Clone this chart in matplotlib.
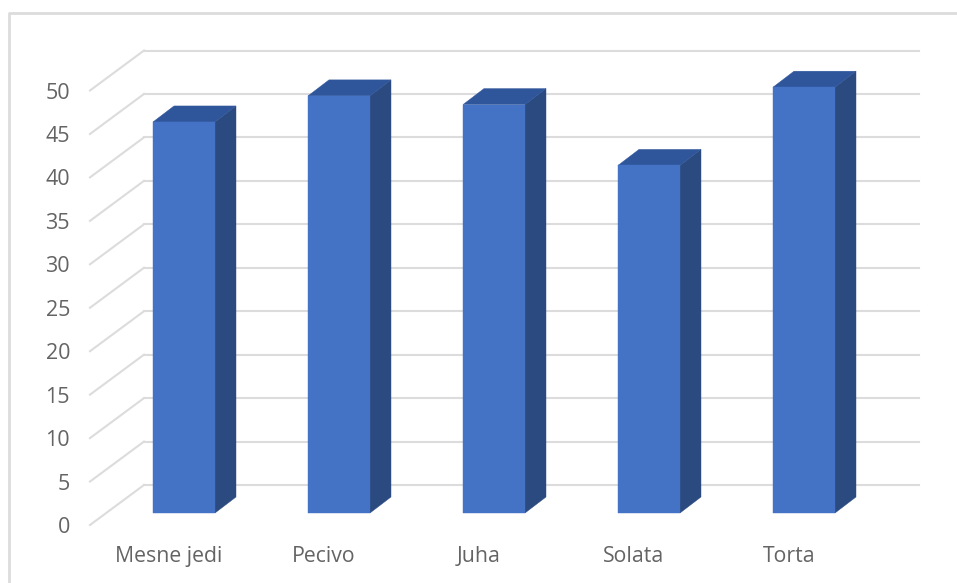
import matplotlib
matplotlib.use("Agg")
import matplotlib.pyplot as plt
from matplotlib.patches import Polygon

categories = ["Mesne jedi", "Pecivo", "Juha", "Solata", "Torta"]
values = [45, 48, 47, 40, 49]
y_ticks = [0, 5, 10, 15, 20, 25, 30, 35, 40, 45, 50]

plt.rcParams['font.family'] = ['Open Sans', 'DejaVu Sans']
W, H = 957, 583
fig = plt.figure(figsize=(W / 100, H / 100), dpi=100, facecolor='white')
ax = fig.add_axes([0, 0, 1, 1])
ax.axis('off')

# one category = 155 px, one value unit = 8.69 px; category 0 sits at x=184, value 0 at y=513
PX, PY = 155.0, 8.69
ax.set_xlim(-184 / PX, (W - 184) / PX)
ax.set_ylim(-(H - 513) / PY, 513 / PY)

def px_x(p): return (p - 184) / PX
def px_y(p): return (513 - p) / PY

half = 31 / PX
dx, dy = 21 / PX, 16 / PY            # bar depth
wall_dx, wall_dy = 37 / PX, 28 / PY  # bar plane -> back wall
floor_dx, floor_dy = 17 / PX, 12 / PY  # bar plane -> front of floor
left, right = px_x(107), px_x(882)
grid = '#dcdcdc'

for v in y_ticks:
    ax.plot([left + wall_dx, right + wall_dx], [v + wall_dy] * 2, color=grid, lw=1.5, zorder=1)
    ax.plot([left - floor_dx, left + wall_dx], [v - floor_dy, v + wall_dy], color=grid, lw=1.5, zorder=1)
    ax.text(px_x(70), v - floor_dy, str(v), ha='right', va='center_baseline', fontsize=15.5, color='#646464')

for i, (c, v) in enumerate(zip(categories, values)):
    ax.add_patch(Polygon([(i + half, 0), (i + half + dx, dy), (i + half + dx, v + dy), (i + half, v)],
                         facecolor='#2a4a80', edgecolor='#2a4a80', lw=0.3, zorder=3))
    ax.add_patch(Polygon([(i - half, v), (i + half, v), (i + half + dx, v + dy), (i - half + dx, v + dy)],
                         facecolor='#2f559b', edgecolor='#2f559b', lw=0.3, zorder=3))
    ax.add_patch(Polygon([(i - half, 0), (i + half, 0), (i + half, v), (i - half, v)],
                         facecolor='#4472c4', edgecolor='#4472c4', lw=0.3, zorder=4))
    ax.text(i - 15 / PX, px_y(556.5), c, ha='center', va='center', fontsize=15.3, color='#646464')

# picture frame: only the top and left edges are visible
fx0, fx1, fy0, fy1 = px_x(9), px_x(957), px_y(583), px_y(13)
ax.plot([fx0, fx0, fx1], [fy0, fy1, fy1], color='#dcdcdc', lw=2, zorder=0)

fig.savefig('out.png', dpi=100)
